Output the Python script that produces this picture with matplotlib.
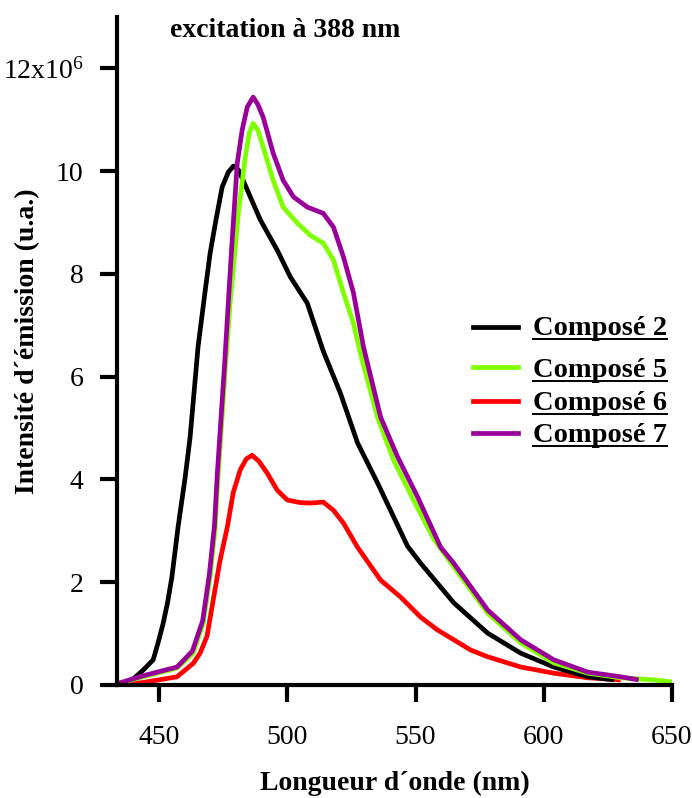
import matplotlib
matplotlib.use("Agg")
import matplotlib.pyplot as plt
from matplotlib.lines import Line2D

# Emission spectra (excitation at 388 nm); intensities in units of 10^6
wl_c2 = [434, 440, 444, 447.7, 449.5, 451.6, 453.3, 455, 457.4, 460.2, 462.1, 465.2,
         468, 469.9, 472, 474.6, 477, 479, 481, 482.8, 486, 489.5, 496.1, 501.2,
         507.8, 514, 520.7, 527.4, 535.2, 546.9, 552, 564.9, 578.1, 591, 603.9,
         617.2, 627.4]
int_c2 = [0.0, 0.12, 0.3, 0.49, 0.8, 1.2, 1.6, 2.1, 3.07, 4.05, 4.82, 6.58,
          7.68, 8.4, 9.0, 9.69, 9.98, 10.1, 10.02, 9.82, 9.45, 9.05, 8.46, 7.94,
          7.43, 6.5, 5.68, 4.71, 3.93, 2.7, 2.37, 1.6, 1.01, 0.62, 0.35,
          0.16, 0.1]

wl_c5 = [434, 443.8, 450, 457, 463.3, 467.2, 469.9, 471.9, 473, 473.8, 475.8, 477.7,
         479.5, 480.9, 483.6, 485.2, 486.7, 488.5, 490.6, 494.5, 498.4, 503.9, 509,
         514, 518, 521.9, 525.8, 528.5, 535.2, 541.4, 549.2, 557, 564.9, 578.1, 591,
         603.9, 617.2, 630, 643, 650]
int_c5 = [0.02, 0.16, 0.24, 0.33, 0.62, 1.2, 2.1, 3.07, 4.05, 4.63, 6.13, 7.43,
          8.4, 9.18, 10.27, 10.75, 10.93, 10.8, 10.47, 9.82, 9.3, 8.99, 8.75,
          8.6, 8.27, 7.63, 7.04, 6.45, 5.21, 4.38, 3.6, 2.85, 2.3, 1.4, 0.82,
          0.43, 0.23, 0.14, 0.1, 0.06]

wl_c6 = [438, 443.8, 450, 457, 463.3, 466, 468.7, 471.1, 473.8, 476.6, 478.9, 481.6,
         484, 486.3, 489, 492.2, 496.1, 500, 505, 509, 514, 518, 521.9, 527.4, 536.4,
         544.2, 552, 558.6, 564.9, 571.5, 578.1, 591, 603.9, 617.2, 630]
int_c6 = [0.02, 0.05, 0.1, 0.16, 0.42, 0.62, 0.95, 1.65, 2.43, 3.07, 3.74, 4.18,
          4.4, 4.47, 4.35, 4.12, 3.79, 3.6, 3.55, 3.54, 3.56, 3.4, 3.15, 2.68,
          2.04, 1.71, 1.32, 1.07, 0.88, 0.68, 0.55, 0.35, 0.23, 0.14, 0.1]

wl_c7 = [434, 443.8, 450, 457, 463, 467, 469.6, 471.6, 472.7, 473.5, 475.5, 477.2,
         478.3, 479.2, 480.5, 482.4, 484.4, 486.7, 488.5, 490.6, 494.5, 498.4,
         502.4, 507.8, 514, 518, 521.9, 525.8, 529.7, 536.4, 543, 550.8, 559.8,
         564.9, 578.1, 591, 603.9, 617.2, 630, 637]
int_c7 = [0.03, 0.18, 0.26, 0.35, 0.66, 1.25, 2.15, 3.1, 4.1, 4.7, 6.2, 7.6,
          8.5, 9.18, 10.16, 10.8, 11.25, 11.44, 11.3, 11.05, 10.35, 9.82,
          9.5, 9.3, 9.18, 8.91, 8.33, 7.63, 6.58, 5.21, 4.44, 3.66, 2.68,
          2.37, 1.46, 0.88, 0.49, 0.25, 0.16, 0.1]

series_names = ["Composé 2", "Composé 5", "Composé 6", "Composé 7"]
series_colors = ["#000000", "#80FF00", "#FF0000", "#990099"]

x_ticks = [450, 500, 550, 600, 650]
y_ticks = [0, 2, 4, 6, 8, 10, 12]
y_tick_labels = ["0", "2", "4", "6", "8", "10", "12x10$^{6}$"]

plt.rcParams["font.family"] = ["Liberation Serif", "DejaVu Serif"]
plt.rcParams["mathtext.fontset"] = "custom"
plt.rcParams["mathtext.rm"] = "Liberation Serif"
plt.rcParams["mathtext.it"] = "Liberation Serif"

W, H = 692, 798
fig = plt.figure(figsize=(W / 100, H / 100), dpi=100)
ax = fig.add_axes([117 / W, 1 - 685 / H, (672 - 117) / W, (685 - 17) / H])

data = {
    "Composé 2": (wl_c2, int_c2),
    "Composé 5": (wl_c5, int_c5),
    "Composé 6": (wl_c6, int_c6),
    "Composé 7": (wl_c7, int_c7),
}
draw_order = ["Composé 6", "Composé 2", "Composé 5", "Composé 7"]
color_of = dict(zip(series_names, series_colors))
for name in draw_order:
    x, y = data[name]
    ax.plot(x, y, color=color_of[name], lw=3.4, solid_joinstyle="round",
            solid_capstyle="butt", clip_on=False)

ax.set_xlim(433.6, 650)
ax.set_ylim(0, 13)
ax.set_xticks(x_ticks)
ax.set_xticklabels([str(t) for t in x_ticks])
ax.set_yticks(y_ticks)
ax.set_yticklabels(y_tick_labels)

for side in ("top", "right"):
    ax.spines[side].set_visible(False)
for side in ("left", "bottom"):
    ax.spines[side].set_linewidth(3)
ax.tick_params(axis="both", direction="out", length=12, width=3, labelsize=20)
ax.tick_params(axis="y", pad=12)
ax.tick_params(axis="x", pad=17)

fig.text(28 / W, 1 - 341 / H, "Intensité d´émission (u.a.)", rotation=90,
         ha="center", va="center", fontsize=20, fontweight="bold")
fig.text(395 / W, 1 - 783 / H, "Longueur d´onde (nm)",
         ha="center", va="center", fontsize=20, fontweight="bold")
fig.text(285 / W, 1 - 37 / H, "excitation à 388 nm",
         ha="center", va="baseline", fontsize=20, fontweight="bold")

# Legend drawn by hand so the labels can be underlined
handle_y = [327, 367, 401, 433]
label_base = [335, 377, 410, 442]
label_texts = []
for name, hy, by in zip(series_names, handle_y, label_base):
    fig.add_artist(Line2D([473 / W, 518 / W], [1 - hy / H, 1 - hy / H],
                          color=color_of[name], lw=3.4,
                          transform=fig.transFigure))
    t = fig.text(533 / W, 1 - by / H, name, ha="left", va="baseline",
                 fontsize=20.5, fontweight="bold")
    label_texts.append((t, by))

fig.canvas.draw()
renderer = fig.canvas.get_renderer()
for t, by in label_texts:
    bb = t.get_window_extent(renderer)
    uy = 1 - (by + 4) / H
    fig.add_artist(Line2D([bb.x0 / W, bb.x1 / W], [uy, uy], color="black",
                          lw=1.4, transform=fig.transFigure))

fig.savefig("out.png", dpi=100)
